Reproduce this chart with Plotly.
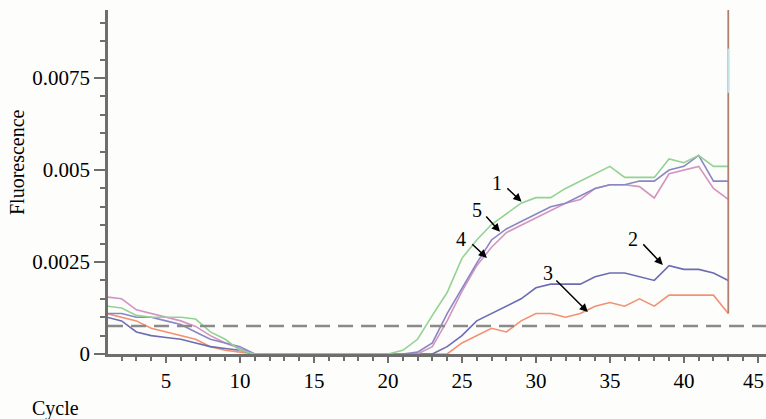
import plotly.graph_objects as go

# ---------------- data ----------------
cycles = list(range(1, 44))

# curve 1 (green)
curve1 = [0.0013, 0.00125, 0.00105, 0.001, 0.001, 0.001, 0.00095, 0.0006, 0.0004, 0.0001,
          0.0, 0.0, 0.0, 0.0, 0.0, 0.0, 0.0, 0.0, 0.0, 0.0,
          0.0001, 0.0004, 0.00105, 0.00167, 0.0026, 0.0031, 0.00352, 0.0038, 0.0041, 0.00425,
          0.00425, 0.0045, 0.0047, 0.0049, 0.0051, 0.0048, 0.0048, 0.0048, 0.0053, 0.0052,
          0.0054, 0.0051, 0.0051]
# curve 5 (purple)
curve5 = [0.0011, 0.0011, 0.001, 0.001, 0.0009, 0.0008, 0.0006, 0.0004, 0.0003, 0.0002,
          0.0, 0.0, 0.0, 0.0, 0.0, 0.0, 0.0, 0.0, 0.0, 0.0,
          0.0, 0.00005, 0.0003, 0.0011, 0.0018, 0.00247, 0.0031, 0.0034, 0.0036, 0.0038,
          0.004, 0.0041, 0.0043, 0.0045, 0.0046, 0.0046, 0.0047, 0.0047, 0.005, 0.0051,
          0.0054, 0.0047, 0.0047]
# curve 4 (pink)
curve4 = [0.00155, 0.0015, 0.0012, 0.0011, 0.001, 0.0009, 0.00075, 0.0005, 0.0003, 0.00015,
          0.0, 0.0, 0.0, 0.0, 0.0, 0.0, 0.0, 0.0, 0.0, 0.0,
          0.0, 0.0, 0.0002, 0.0009, 0.0017, 0.0024, 0.0029, 0.0033, 0.0035, 0.0037,
          0.0039, 0.0041, 0.0042, 0.0045, 0.0046, 0.0046, 0.00455, 0.00424, 0.0049, 0.005,
          0.0051, 0.0045, 0.0042]
# curve 2 (navy)
curve2 = [0.001, 0.0009, 0.0006, 0.0005, 0.00045, 0.0004, 0.0003, 0.0002, 0.00015, 0.0001,
          0.0, 0.0, 0.0, 0.0, 0.0, 0.0, 0.0, 0.0, 0.0, 0.0,
          0.0, 0.0, 0.0, 0.0002, 0.0005, 0.0009, 0.0011, 0.0013, 0.0015, 0.0018,
          0.0019, 0.0019, 0.0019, 0.0021, 0.0022, 0.0022, 0.0021, 0.002, 0.0024, 0.0023,
          0.0023, 0.0022, 0.002]
# curve 3 (orange)
curve3 = [0.0011, 0.001, 0.0009, 0.0007, 0.0006, 0.0005, 0.0004, 0.0002, 0.0001, 0.00005,
          0.0, 0.0, 0.0, 0.0, 0.0, 0.0, 0.0, 0.0, 0.0, 0.0,
          0.0, 0.0, 0.0, 0.0, 0.0003, 0.0005, 0.0007, 0.0006, 0.0009, 0.0011,
          0.0011, 0.001, 0.0011, 0.0013, 0.0014, 0.0013, 0.0015, 0.0013, 0.0016, 0.0016,
          0.0016, 0.0016, 0.0011]

# end-of-run spike
spike_cycle = [43, 43]
spike_values = [0.0011, 0.0094]
spike_cyan = [0.0071, 0.0083]

threshold = 0.00076

y_ticks = [0, 0.0025, 0.005, 0.0075]
y_ticktext = ["0", "0.0025", "0.005", "0.0075"]
x_ticks = [5, 10, 15, 20, 25, 30, 35, 40, 45]
x_edge_label = "45"  # last label, at the right edge

# labels: (text, text_x, text_y, tail_x, tail_y, head_x, head_y)
labels = [
    ("1", 27.36, 0.00465, 27.97, 0.00454, 29.03, 0.00414),
    ("5", 26.01, 0.00391, 26.55, 0.00378, 27.57, 0.00332),
    ("4", 24.93, 0.003125, 25.6, 0.00302, 26.69, 0.00261),
    ("2", 36.55, 0.003125, 37.16, 0.00302, 38.58, 0.00242),
    ("3", 30.81, 0.0022, 31.28, 0.00204, 33.51, 0.00114),
]

# ---------------- figure ----------------
FONT = "Liberation Serif"
AX = "#6e6e6e"

fig = go.Figure()

series = [
    (curve3, "#f29272"),
    (curve2, "#6c6cb2"),
    (curve4, "#d494c0"),
    (curve5, "#8a86c6"),
    (curve1, "#94d294"),
]
for vals, col in series:
    fig.add_trace(go.Scatter(x=cycles, y=vals, mode="lines",
                             line=dict(color=col, width=1.6), showlegend=False,
                             hoverinfo="skip"))

fig.add_trace(go.Scatter(x=spike_cycle, y=spike_values, mode="lines",
                         line=dict(color="#b0806e", width=1.8), showlegend=False))
fig.add_trace(go.Scatter(x=spike_cycle, y=spike_cyan, mode="lines",
                         line=dict(color="#c4e2ea", width=1.8), showlegend=False))

fig.add_shape(type="line", xref="paper", yref="y", x0=0, x1=1, y0=threshold, y1=threshold,
              line=dict(color="#8a8a8a", width=2.5, dash="15px,8px"))

for txt, tx, ty, ax_, ay_, hx, hy in labels:
    fig.add_annotation(x=tx, y=ty, text=txt, showarrow=False,
                       font=dict(family=FONT, size=20, color="black"))
    fig.add_annotation(x=hx, y=hy, ax=ax_, ay=ay_, axref="x", ayref="y", text="",
                       showarrow=True, arrowhead=2, arrowsize=1.1, arrowwidth=1.5,
                       arrowcolor="black")

fig.add_annotation(x=1.0, y=-0.078, xref="paper", yref="paper", text=x_edge_label,
                   showarrow=False, xanchor="right", yanchor="middle",
                   font=dict(family=FONT, size=21, color="black"))

fig.add_annotation(x=-0.1383, y=0.558, xref="paper", yref="paper", text="Fluorescence",
                   showarrow=False, textangle=-90, xanchor="center", yanchor="middle",
                   font=dict(family=FONT, size=20, color="black"))
fig.add_annotation(x=-0.0805, y=-0.158, xref="paper", yref="paper", text="Cycle",
                   showarrow=False, xanchor="center", yanchor="middle",
                   font=dict(family=FONT, size=20, color="black"))

fig.update_layout(
    width=766, height=419,
    margin=dict(l=108, r=0, t=10, b=65),
    paper_bgcolor="#fdfdfb", plot_bgcolor="#fdfdfb",
    font=dict(family=FONT, size=21, color="black"),
    xaxis=dict(range=[1.08, 45.55], tickvals=x_ticks, showgrid=False, zeroline=False,
               showline=True, linecolor=AX, linewidth=2.5,
               ticks="outside", ticklen=6, tickwidth=2, tickcolor=AX,
               minor=dict(dtick=1, tick0=0, ticks="outside", ticklen=4, tickwidth=1.5,
                          tickcolor=AX, showgrid=False),
               tickfont=dict(family=FONT, size=21, color="black")),
    yaxis=dict(range=[0, 0.00935], tickvals=y_ticks, ticktext=y_ticktext, showgrid=False,
               zeroline=False, showline=True, linecolor=AX, linewidth=2.5,
               ticks="outside", ticklen=11, tickwidth=2, tickcolor=AX,
               minor=dict(dtick=0.0005, tick0=0, ticks="outside", ticklen=5, tickwidth=1.5,
                          tickcolor=AX, showgrid=False),
               tickfont=dict(family=FONT, size=21, color="black")),
)

fig.write_html("out.html", config={"displayModeBar": False},
               post_script="document.body.style.margin='0';document.body.style.background='#fdfdfb';")
